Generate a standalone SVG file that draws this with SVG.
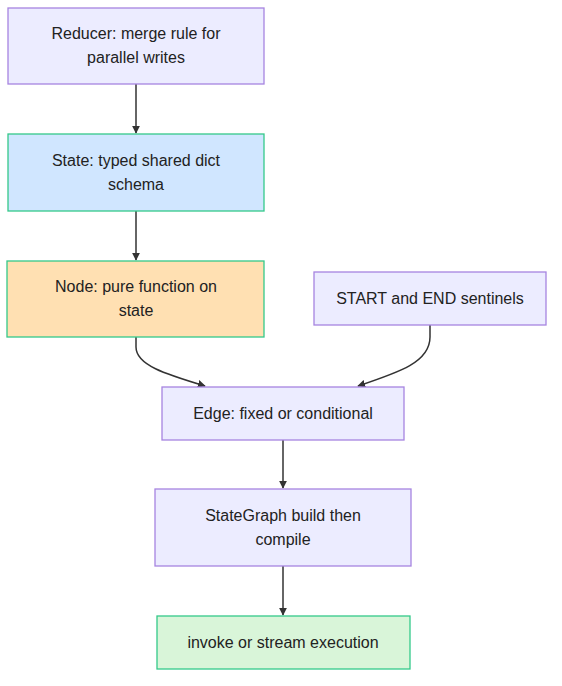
<svg xmlns="http://www.w3.org/2000/svg" width="562" height="686" viewBox="0 0 562 686">
<style>
text{font-family:"Trebuchet MS","Liberation Sans",Arial,sans-serif;font-size:16px;fill:#222;text-anchor:middle}
.p{fill:#ECECFF;stroke:#A784E0;stroke-width:1.3}
.b{fill:#D0E6FF;stroke:#34C98A;stroke-width:1.3}
.o{fill:#FFE0B2;stroke:#34C98A;stroke-width:1.3}
.g{fill:#D9F5D9;stroke:#34C98A;stroke-width:1.3}
.e{fill:none;stroke:#333;stroke-width:1.5}
</style>
<defs>
<marker id="ah" viewBox="0 0 10 10" refX="9" refY="5" markerWidth="8" markerHeight="8" markerUnits="userSpaceOnUse" orient="auto">
<path d="M0,0 L10,5 L0,10 z" fill="#333"/>
</marker>
</defs>
<rect width="562" height="686" fill="#fff"/>
<g id="connectors">
<path class="e" d="M136,84 V133" marker-end="url(#ah)"/>
<path class="e" d="M136,211 V260" marker-end="url(#ah)"/>
<path class="e" d="M136,337 V347 C136,365 165,374 205,386" marker-end="url(#ah)"/>
<path class="e" d="M430,325 V337 C430,362 400,372 358,386" marker-end="url(#ah)"/>
<path class="e" d="M283,440 V488" marker-end="url(#ah)"/>
<path class="e" d="M283,566 V615" marker-end="url(#ah)"/>
</g>
<g id="reducer">
<rect class="p" x="8" y="8" width="256" height="76"/>
<text x="136" y="39">Reducer: merge rule for</text>
<text x="136" y="63">parallel writes</text>
</g>
<g id="state">
<rect class="b" x="8" y="134" width="256" height="77"/>
<text x="136" y="166">State: typed shared dict</text>
<text x="136" y="190">schema</text>
</g>
<g id="node">
<rect class="o" x="7" y="261" width="257" height="76"/>
<text x="136" y="292">Node: pure function on</text>
<text x="136" y="316">state</text>
</g>
<g id="sentinels">
<rect class="p" x="314" y="272" width="232" height="53"/>
<text x="430" y="304">START and END sentinels</text>
</g>
<g id="edge">
<rect class="p" x="162" y="387" width="242" height="53"/>
<text x="283" y="419">Edge: fixed or conditional</text>
</g>
<g id="stategraph">
<rect class="p" x="155" y="489" width="256" height="77"/>
<text x="283" y="521">StateGraph build then</text>
<text x="283" y="545">compile</text>
</g>
<g id="invoke">
<rect class="g" x="157" y="616" width="253" height="53"/>
<text x="283" y="648">invoke or stream execution</text>
</g>
</svg>
